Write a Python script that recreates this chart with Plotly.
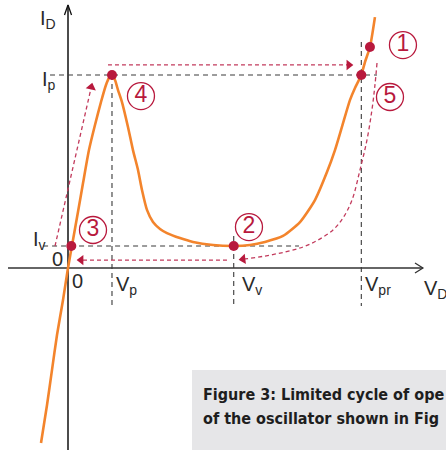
import math
import plotly.graph_objects as go

# Tunnel-diode I-V characteristic (V in mV, I in mA)
curve_v = [-36.8, -28.6, -21.8, -15.0, -6.8, 0.0, 6.8, 13.6, 20.5, 28.6, 36.8, 45.0, 51.8, 55.9, 60.0,
           64.1, 68.2, 73.6, 81.8, 88.6, 95.5, 100.9, 107.7, 115.9, 125.5, 135.0, 152.7, 170.5, 197.7, 226.0,
           248.2, 268.6, 293.2, 316.4, 336.8, 353.2, 364.1, 373.6, 384.5, 391.4, 400.0, 405.0, 411.8, 418.6]
curve_i = [-9.07, -7.10, -5.28, -3.47, -1.66, 0.0, 1.45, 2.90, 4.40, 6.11, 7.41, 8.60, 9.48, 9.84, 10.0,
           9.74, 9.22, 8.60, 7.31, 6.11, 5.08, 4.04, 3.01, 2.38, 2.02, 1.81, 1.55, 1.35, 1.19, 1.14,
           1.19, 1.35, 1.66, 2.38, 3.52, 4.97, 6.11, 7.31, 8.70, 9.33, 10.0, 10.67, 11.45, 13.0]

# Characteristic values
V_P, V_V, V_PR = 60.0, 226.0, 400.0
I_P, I_V = 10.0, 1.14

# Operating points of the limit cycle
point_v = [411.8, V_V, 4.5, V_P, V_PR]
point_i = [11.45, I_V, I_V, I_P, I_P]
point_names = ["1", "2", "3", "4", "5"]
badge_v = [456.8, 246.8, 34.1, 99.5, 439.1]
badge_i = [11.55, 2.12, 1.97, 8.91, 8.86]

# Transitions of the limit cycle
jump_up_v, jump_up_i = [-17.7, 32.7], [1.14, 9.53]
jump_right_v, jump_right_i = [54.5, 387.3], [10.52, 10.52]
relax_v = [421.4, 418.6, 414.5, 407.7, 398.2, 387.3, 375.0, 361.4, 340.9, 320.5, 295.9, 268.6, 241.4, 234.5]
relax_i = [10.62, 9.48, 8.19, 6.63, 5.08, 3.52, 2.59, 1.97, 1.45, 1.09, 0.83, 0.62, 0.47, 0.44]
jump_left_v, jump_left_i = [216.8, 13.6], [0.41, 0.41]

X_RANGE = [-92.73, 515.5]
Y_RANGE = [-9.43, 13.886]
W, H = 446, 450
PX_X = W / (X_RANGE[1] - X_RANGE[0])   # pixels per mV
PX_Y = H / (Y_RANGE[1] - Y_RANGE[0])   # pixels per mA

ORANGE = "#f3842c"
CRIMSON = "#b8193d"
PINK = "#c23a5c"
GUIDE = "#3a3a3a"
TXT = "#2a2a2a"
FONT = "Liberation Sans, Arial, sans-serif"

fig = go.Figure()


def line(xs, ys, color, width, dash="solid", shape="linear"):
    fig.add_trace(go.Scatter(x=xs, y=ys, mode="lines", hoverinfo="skip",
                             line=dict(color=color, width=width, dash=dash, shape=shape)))


def arrow_head(xs, ys, size=9):
    """Filled triangle at the end of a path, pointing along its last segment."""
    dx = (xs[-1] - xs[-2]) * PX_X
    dy = (ys[-1] - ys[-2]) * PX_Y
    n = math.hypot(dx, dy)
    ux, uy = dx / n, dy / n
    back = size * 0.35
    cx = xs[-1] - ux * back / PX_X
    cy = ys[-1] - uy * back / PX_Y
    ang = math.degrees(math.atan2(ux, uy))  # clockwise from "up"
    fig.add_trace(go.Scatter(x=[cx], y=[cy], mode="markers", hoverinfo="skip",
                             marker=dict(symbol="triangle-up", size=size, angle=ang,
                                         color=CRIMSON, line=dict(width=0))))


# axes
line([0, 0], [Y_RANGE[0], 13.63], "#111111", 1.5)
line([-4.8, 0, 4.8], [13.11, 13.63, 13.11], "#111111", 1.3)
line([-81.8, 484.0], [0, 0], "#333333", 1.3)
line([473.2, 484.0, 473.2], [0.26, 0, -0.26], "#333333", 1.3)

# guide lines
g_dash = "5px,4px"
line([-24.5, 421.4], [I_P, I_P], GUIDE, 1.1, g_dash)
line([-34.0, 315.0], [I_V, I_V], GUIDE, 1.1, g_dash)
line([V_P, V_P], [I_P, -1.97], GUIDE, 1.1, g_dash)
line([V_V, V_V], [1.66, -1.97], GUIDE, 1.1, g_dash)
line([V_PR, V_PR], [11.71, -1.97], GUIDE, 1.1, g_dash)

# characteristic curve
fig.add_trace(go.Scatter(x=curve_v, y=curve_i, mode="lines", hoverinfo="skip",
                         line=dict(color=ORANGE, width=2.6, shape="spline", smoothing=0.6)))

# transitions
p_dash = "4px,3px"
line(jump_up_v, jump_up_i, PINK, 1.3, p_dash)
line(jump_right_v, jump_right_i, PINK, 1.3, p_dash)
line(relax_v, relax_i, PINK, 1.3, p_dash, "spline")
line(jump_left_v, jump_left_i, PINK, 1.3, p_dash)
for xs, ys in [(jump_up_v, jump_up_i), (jump_right_v, jump_right_i),
               (relax_v, relax_i), (jump_left_v, jump_left_i)]:
    arrow_head(xs, ys)

# operating points
fig.add_trace(go.Scatter(x=point_v, y=point_i, mode="markers", hoverinfo="skip",
                         marker=dict(color=CRIMSON, size=10, line=dict(width=0))))

# numbered badges
fig.add_trace(go.Scatter(x=badge_v, y=badge_i, mode="markers+text", hoverinfo="skip",
                         text=point_names, textposition="middle center",
                         textfont=dict(family=FONT, size=23, color=CRIMSON),
                         marker=dict(size=27, color="rgba(0,0,0,0)",
                                     line=dict(color=CRIMSON, width=1.3))))

annotations = []


def label(text, x, y, xanchor="left", size=20):
    annotations.append(dict(x=x, y=y, xref="x", yref="y", text=text, showarrow=False,
                            xanchor=xanchor, yanchor="middle",
                            font=dict(family=FONT, size=size, color=TXT)))


label("I<sub>D</sub>", -13.6, 12.85, "right")
label("I<sub>p</sub>", -13.6, 9.74, "right")
label("I<sub>v</sub>", -27.3, 1.40, "right")
label("0", -15.0, 0.47, "center")
label("0", 12.3, -0.67, "center")
label("V<sub>p</sub>", 62.7, -0.93)
label("V<sub>v</sub>", 234.5, -0.93)
label("V<sub>pr</sub>", 402.3, -0.93)
label("V<sub>D</sub>", 482.7, -1.09)

# caption panel
caption_lines = ["Figure 3: Limited cycle of ope", "of the oscillator shown in Fig"]
cap_font = dict(family="DejaVu Sans Condensed, Liberation Sans Narrow, Roboto Condensed, Liberation Sans, Arial",
                size=16, color="#1e1e1e")
for k, txt in enumerate(caption_lines):
    annotations.append(dict(x=201 / W, y=1 - (394 + 24 * k) / H, xref="paper", yref="paper",
                            text="<b>" + txt + "</b>", showarrow=False, xanchor="left",
                            yanchor="middle", font=cap_font))

fig.update_layout(
    width=W, height=H, autosize=False,
    margin=dict(l=0, r=0, t=0, b=0, pad=0),
    paper_bgcolor="white", plot_bgcolor="white",
    showlegend=False,
    xaxis=dict(range=X_RANGE, visible=False, fixedrange=True),
    yaxis=dict(range=Y_RANGE, visible=False, fixedrange=True),
    shapes=[dict(type="rect", xref="paper", yref="paper", x0=192 / W, x1=1.0,
                 y0=0.0, y1=1 - 370 / H, fillcolor="#e6e6e8", line=dict(width=0), layer="below")],
    annotations=annotations,
)

fig.write_html("out.html")
